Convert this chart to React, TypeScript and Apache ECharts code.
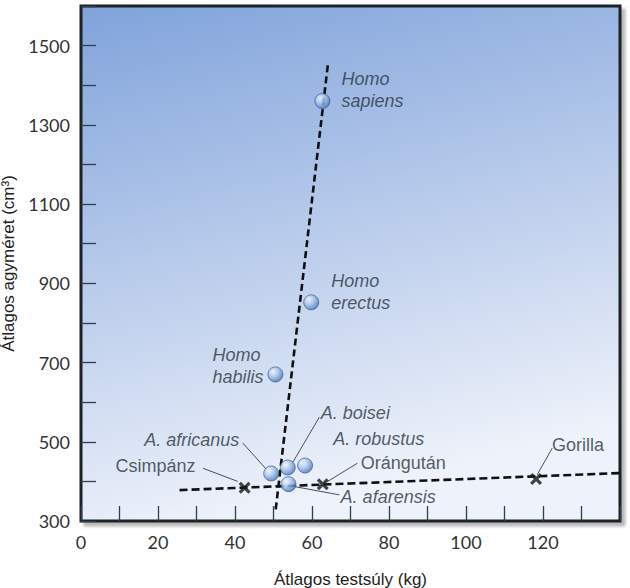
import React, { useEffect, useRef } from "react";
import * as echarts from "echarts";

// ---- data ----
const hominidNames = ["Homo\nsapiens", "Homo\nerectus", "Homo\nhabilis", "A. africanus", "A. boisei", "A. robustus", "A. afarensis"];
const hominidMass = [62.7, 59.8, 50.5, 49.4, 53.7, 58.2, 53.9];
const hominidBrain = [1360, 852, 670, 420, 435, 440, 393];

const apeNames = ["Csimpánz", "Orángután", "Gorilla"];
const apeMass = [42.5, 62.8, 118.2];
const apeBrain = [384, 393, 406];

const hominidTrend = [[64.1, 1450], [50.5, 323]];
const apeTrend = [[25.6, 378], [140, 421]];

// leader lines [from, to] in data units
const leaders = [
  [[31.7, 433], [40.7, 400]],
  [[42.0, 497], [48.1, 431]],
  [[61.9, 562], [55.0, 448]],
  [[71.8, 446], [64.1, 400]],
  [[67.1, 366], [55.4, 387]],
  [[122.4, 484], [118.5, 417]],
];

const xLabelValues = [0, 20, 40, 60, 80, 100, 120];
const yLabelValues = [300, 500, 700, 900, 1100, 1300, 1500];

// label placement (pixels relative to symbol box)
const hominidLabelPos = [
  { pos: [27, -3], align: "left" },
  { pos: [28, -2], align: "left" },
  { pos: [-55, -0.5], align: "left" },
  { pos: [-24, -26], align: "right" },
  { pos: [41, -47], align: "left" },
  { pos: [36, -19], align: "left" },
  { pos: [60, 21], align: "left" },
];
const apeLabelPos = [
  { pos: [-43, -15.5], align: "right" },
  { pos: [44, -15], align: "left" },
  { pos: [22, -28.5], align: "left" },
];

const TEXT = "#2b3440";
const FONT = "'Liberation Sans', Arial, sans-serif";

export default function App() {
  const ref = useRef<HTMLDivElement>(null);
  useEffect(() => {
    if (!ref.current) return;
    const chart = echarts.init(ref.current, undefined, { renderer: "svg" });
    const sphere = new echarts.graphic.RadialGradient(0.35, 0.32, 0.75, [
      { offset: 0, color: "#f4f8fe" },
      { offset: 0.45, color: "#a6c3ea" },
      { offset: 1, color: "#3b6cb3" },
    ]);
    chart.setOption({
      animation: false,
      grid: {
        left: 81,
        right: 10,
        top: 6,
        bottom: 67,
        outerBoundsMode: "none",
        containLabel: false,
        show: true,
        borderColor: "#1b2027",
        borderWidth: 3,
        backgroundColor: new echarts.graphic.LinearGradient(0, 0, 0.25, 1, [
          { offset: 0, color: "#80a3db" },
          { offset: 1, color: "#eef2fa" },
        ]),
        shadowColor: "rgba(0,0,0,0.28)",
        shadowBlur: 3,
        shadowOffsetX: 4,
        shadowOffsetY: 4,
      },
      xAxis: {
        type: "value",
        min: 0,
        max: 140,
        interval: 10,
        name: "Átlagos testsúly (kg)",
        nameLocation: "middle",
        nameGap: 50,
        nameTextStyle: { fontFamily: FONT, fontSize: 17, color: "#222" },
        axisLine: { show: false },
        splitLine: { show: false },
        axisTick: { inside: true, length: 15, lineStyle: { color: "#2f3e55", width: 1.3 } },
        axisLabel: {
          margin: 12,
          fontFamily: "Lato, 'Open Sans', sans-serif",
          fontSize: 18,
          color: "#333",
          formatter: (v: number) => (xLabelValues.includes(v) ? String(v) : ""),
        },
      },
      yAxis: {
        type: "value",
        min: 300,
        max: 1600,
        interval: 100,
        name: "Átlagos agyméret (cm³)",
        nameLocation: "middle",
        nameGap: 57,
        nameTextStyle: { fontFamily: FONT, fontSize: 17, color: "#222" },
        axisLine: { show: false },
        splitLine: { show: false },
        axisTick: { inside: true, length: 15, lineStyle: { color: "#2f3e55", width: 1.3 } },
        axisLabel: {
          margin: 11,
          fontFamily: "Lato, 'Open Sans', sans-serif",
          fontSize: 18,
          color: "#333",
          formatter: (v: number) => (yLabelValues.includes(v) ? String(v) : ""),
        },
      },
      series: [
        {
          type: "line",
          data: hominidTrend,
          symbol: "none",
          lineStyle: { color: "#111", width: 2.6, type: [7, 4] },
          z: 2,
        },
        {
          type: "line",
          data: apeTrend,
          symbol: "none",
          lineStyle: { color: "#111", width: 2.6, type: [8, 4] },
          z: 2,
        },
        {
          type: "lines",
          coordinateSystem: "cartesian2d",
          data: leaders.map((c) => ({ coords: c })),
          lineStyle: { color: "#4a4f57", width: 1, opacity: 1 },
          silent: true,
          z: 3,
        },
        {
          type: "scatter",
          symbol: "path://M0,1.9 L1.9,0 L5,3.1 L8.1,0 L10,1.9 L6.9,5 L10,8.1 L8.1,10 L5,6.9 L1.9,10 L0,8.1 L3.1,5 Z",
          symbolSize: 12,
          itemStyle: { color: "#151515" },
          z: 4,
          data: apeNames.map((n, i) => ({
            name: n,
            value: [apeMass[i], apeBrain[i]],
            label: {
              show: true,
              formatter: n,
              position: apeLabelPos[i].pos,
              align: apeLabelPos[i].align,
              verticalAlign: "middle",
              fontFamily: FONT,
              fontSize: 18,
              color: TEXT,
            },
          })),
        },
        {
          type: "scatter",
          symbol: "circle",
          symbolSize: 15,
          itemStyle: { color: sphere, borderColor: "#2d5286", borderWidth: 0.8 },
          z: 5,
          data: hominidNames.map((n, i) => ({
            name: n,
            value: [hominidMass[i], hominidBrain[i]],
            label: {
              show: true,
              formatter: n,
              position: hominidLabelPos[i].pos,
              align: hominidLabelPos[i].align,
              verticalAlign: "middle",
              fontFamily: FONT,
              fontStyle: "italic",
              fontSize: 18,
              lineHeight: 22,
              color: TEXT,
            },
          })),
        },
      ],
    });
    return () => chart.dispose();
  }, []);
  return <div ref={ref} style={{ width: 630, height: 588, position: "absolute", left: 0, top: 0 }} />;
}
